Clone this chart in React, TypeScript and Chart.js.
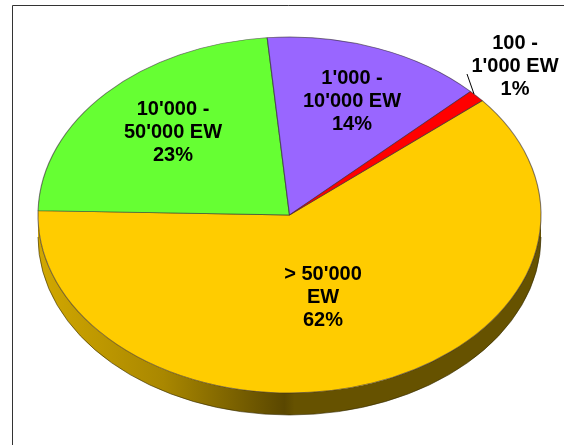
import React, { useEffect, useRef } from "react";
import { Chart, registerables } from "chart.js";

Chart.register(...registerables);

const categories = ["> 50'000 EW", "10'000 - 50'000 EW", "1'000 - 10'000 EW", "100 - 1'000 EW"];
const values = [61.5, 23.2, 14.2, 1.1];
const percentLabels = ["62%", "23%", "14%", "1%"];
const colors = ["#ffcc00", "#66ff33", "#9966ff", "#ff0000"];
const labelLines = [["> 50'000", "EW"], ["10'000 -", "50'000 EW"], ["1'000 -", "10'000 EW"], ["100 -", "1'000 EW"]];

const W = 564;
const H = 445;
const RX = 251.5;
const RY = 178;
const DEPTH = 22;
const STRETCH = RX / RY;
const LABEL_POS = [[323, 274], [173, 109], [352, 78], [515, 43]];
const LINE_H = 23;

const stretched = (ctx: CanvasRenderingContext2D, x: number, y: number) => {
  ctx.translate(x, y);
  ctx.scale(STRETCH, 1);
  ctx.translate(-x, -y);
};

const piePlugin = {
  id: "pie3d",
  beforeDraw(chart: any) {
    const ctx = chart.ctx;
    ctx.save();
    ctx.fillStyle = "#ffffff";
    ctx.fillRect(0, 0, W, H);
    ctx.strokeStyle = "#333333";
    ctx.lineWidth = 1;
    ctx.beginPath();
    ctx.moveTo(12.5, H);
    ctx.lineTo(12.5, 5.5);
    ctx.lineTo(W, 5.5);
    ctx.stroke();
    ctx.restore();
  },
  beforeDatasetDraw(chart: any) {
    const ctx = chart.ctx;
    const arcs = chart.getDatasetMeta(0).data;
    const { x, y } = arcs[0];
    const grad = ctx.createLinearGradient(x - RX, 0, x + RX, 0);
    grad.addColorStop(0, "#d2a800");
    grad.addColorStop(0.25, "#a98700");
    grad.addColorStop(0.49, "#5a4700");
    grad.addColorStop(0.51, "#665200");
    grad.addColorStop(1, "#665200");
    ctx.save();
    arcs.forEach((arc: any) => {
      const a0 = Math.max(arc.startAngle % (2 * Math.PI), 0);
      const a1 = Math.min(a0 + (arc.endAngle - arc.startAngle), Math.PI);
      if (a1 <= a0) return;
      ctx.beginPath();
      ctx.ellipse(x, y + DEPTH, RX, RY, 0, a0, a1);
      ctx.ellipse(x, y, RX, RY, 0, a1, a0, true);
      ctx.closePath();
      ctx.fillStyle = grad;
      ctx.fill();
      ctx.beginPath();
      ctx.ellipse(x, y + DEPTH, RX, RY, 0, a0, a1);
      ctx.strokeStyle = "rgba(50,40,0,0.6)";
      ctx.lineWidth = 1;
      ctx.stroke();
    });
    ctx.restore();
    ctx.save();
    stretched(ctx, x, y);
  },
  afterDatasetDraw(chart: any) {
    chart.ctx.restore();
  },
  afterDraw(chart: any) {
    const ctx = chart.ctx;
    ctx.save();
    ctx.beginPath();
    ctx.moveTo(467, 74);
    ctx.lineTo(474, 94);
    ctx.strokeStyle = "#000000";
    ctx.lineWidth = 1;
    ctx.stroke();
    ctx.fillStyle = "#000000";
    ctx.font = "bold 20px 'Liberation Sans', Arial, sans-serif";
    ctx.textAlign = "center";
    ctx.textBaseline = "middle";
    labelLines.forEach((lines, i) => {
      const [lx, ly] = LABEL_POS[i];
      [...lines, percentLabels[i]].forEach((t, j) => ctx.fillText(t, lx, ly + j * LINE_H));
    });
    ctx.restore();
  },
};

export default function App() {
  const ref = useRef<HTMLCanvasElement>(null);
  useEffect(() => {
    const chart = new Chart(ref.current!, {
      type: "pie",
      data: {
        labels: categories,
        datasets: [{
          data: values,
          backgroundColor: colors,
          borderColor: "rgba(50,40,50,0.6)",
          borderWidth: 0.8,
          clip: false,
        } as any],
      },
      options: {
        responsive: false,
        animation: false,
        events: [],
        rotation: 50,
        radius: RY,
        layout: { padding: { left: 15, right: 0, top: 0, bottom: 15 } },
        plugins: { legend: { display: false }, tooltip: { enabled: false } },
      },
      plugins: [piePlugin],
    } as any);
    return () => chart.destroy();
  }, []);
  return (
    <canvas ref={ref} width={W} height={H} style={{ position: "absolute", left: 0, top: 0, width: W, height: H }} />
  );
}
